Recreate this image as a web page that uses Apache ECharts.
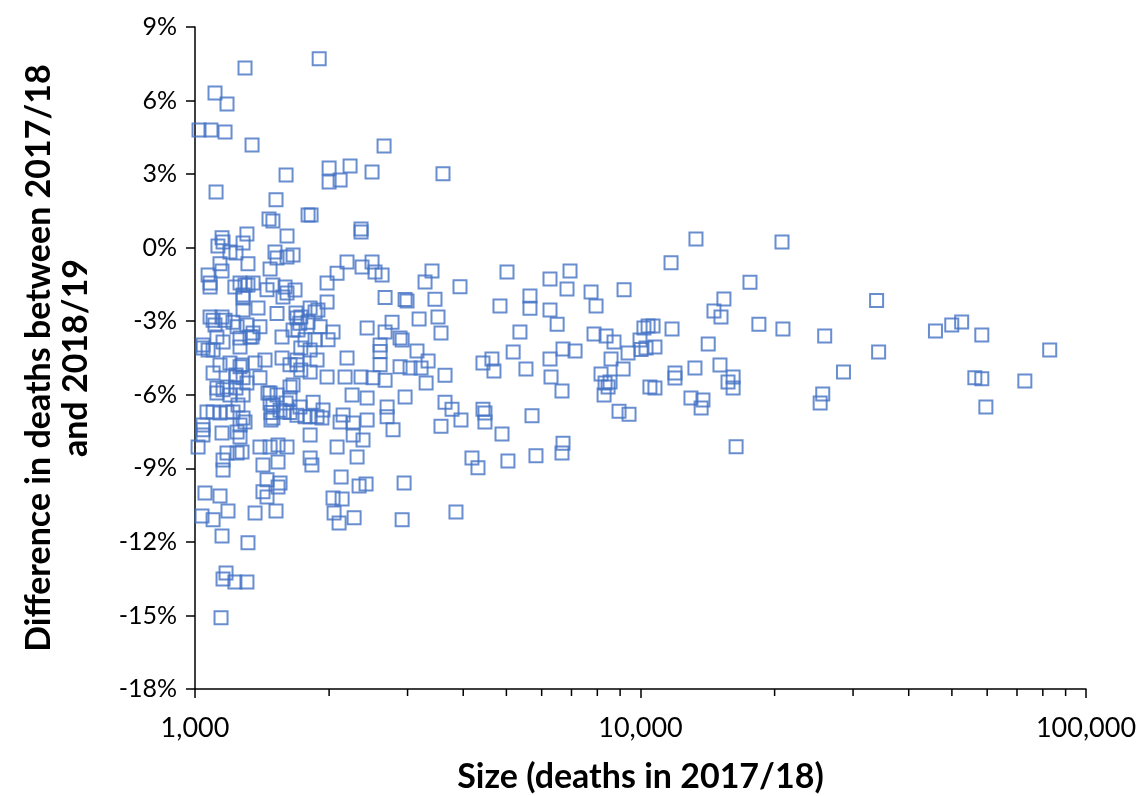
<!DOCTYPE html>
<html>
<head>
<meta charset="utf-8">
<script src="https://cdn.jsdelivr.net/npm/echarts@6/dist/echarts.min.js"></script>
<style>
html,body{margin:0;padding:0;background:#fff;}
#chart{width:1140px;height:796px;}
</style>
</head>
<body>
<div id="chart"></div>
<script>
// Size (deaths in 2017/18)
const sizes = [
1900,1295,1109,1180,1021,1086,1168,1343,2657,1601,2000,2229,2497,3603,2000,2117,1115,1520,1466,1496,
1794,1822,2359,1308,1609,1282,1150,1156,1126,1198,1236,1512,1528,1609,1315,1138,1150,1474,1070,1081,
1081,1262,1295,1282,1350,1451,1496,1593,1609,1576,1229,1385,1528,1282,1081,1098,1150,1168,1217,1243,
1109,1308,1399,1350,1120,1042,1156,1262,1329,1568,1660,1694,1042,1098,1262,1138,1198,1262,1364,1436,
1568,1634,1694,1236,1282,1399,1120,1180,1236,1474,1528,1634,1282,1249,1064,1098,1138,1180,1496,1552,
1496,1634,1694,1282,1262,1042,1042,1150,1262,1016,1399,1474,1536,1609,1180,1243,1156,1156,1275,1421,
1536,1813,1830,1813,2084,2311,2265,2383,2783,1053,1138,1451,1421,1451,1552,1536,1186,1037,1098,1364,
1520,2128,2335,2421,2041,2139,2052,2106,2276,2947,2917,1150,1315,1174,1156,1229,1308,1144,2359,2194,
2371,2497,2536,2630,2084,1979,2671,2962,1979,1660,1677,1813,1860,1888,1685,1728,1794,1719,1703,1909,
2041,2434,2769,2671,2886,1989,1860,1766,2603,1728,1813,1879,2194,2603,2603,2886,1694,1728,1813,1979,
2172,2359,2510,2671,1660,2252,2434,2962,1634,1841,1938,1721,2699,2699,2150,2117,2265,2434,1766,1813,
1879,1927,3404,3284,3934,2992,3457,3184,3511,3566,2917,3150,3336,3039,3217,3641,3302,3641,3775,3954,
3566,4430,4476,4476,4888,5708,4185,4317,5040,5826,6700,6665,3853,5016,6947,6264,6840,5648,5648,4837,
6264,6500,7745,7947,9185,5363,5178,4430,4640,4689,5532,6264,6700,7130,6297,6665,7865,8370,8720,8588,
9377,9140,8155,8326,8544,8457,8284,8950,9425,10180,10400,10030,10290,9975,10500,13320,20780,11710,17610,15390,
14620,15160,33880,10670,11770,18440,20880,25910,45930,49970,52590,58360,82900,34240,14190,10776,13250,15080,11950,11950,
10776,16140,15720,16140,12980,13810,13680,28550,25650,25310,16390,56300,58360,72900,59600,1282,1315,1098,1308,1156,
1120,1198,1458,1601,1474,1217,1295,1042,1243,1481,1584,1481,1070,1343,1275,1236
];
// Difference in deaths between 2017/18 and 2018/19 (%)
const diffs = [
7.70,7.33,6.31,5.86,4.80,4.80,4.72,4.19,4.15,2.96,3.25,3.33,3.09,3.01,2.68,2.76,2.27,1.95,1.17,1.09,
1.33,1.33,0.76,0.56,0.48,0.19,0.40,0.23,0.07,-0.18,-0.22,-0.18,-0.42,-0.38,-0.66,-0.66,-0.95,-0.87,-1.11,-1.44,
-1.60,-1.44,-1.52,-1.93,-1.44,-1.72,-1.52,-1.60,-1.85,-2.01,-1.60,-2.46,-2.68,-2.54,-2.83,-2.96,-2.83,-2.96,-3.04,-3.23,
-3.15,-3.15,-3.23,-3.48,-3.64,-3.97,-3.85,-3.68,-3.64,-3.64,-3.36,-2.87,-4.09,-4.17,-4.05,-4.79,-4.70,-4.86,-4.70,-4.58,
-4.50,-4.78,-4.58,-5.19,-5.31,-5.31,-5.72,-5.68,-5.72,-5.93,-6.01,-5.68,-6.01,-6.42,-6.70,-6.70,-6.74,-6.70,-6.42,-6.63,
-6.95,-6.72,-6.84,-6.95,-7.23,-7.43,-7.64,-7.56,-7.72,-8.13,-8.13,-8.13,-8.05,-8.13,-8.37,-8.37,-8.66,-9.07,-8.33,-8.86,
-8.74,-8.58,-8.86,-7.64,-8.13,-8.54,-7.64,-7.84,-7.43,-10.01,-10.13,-9.47,-9.96,-10.17,-9.60,-9.76,-10.74,-10.94,-11.10,-10.82,
-10.74,-9.35,-9.72,-9.64,-10.21,-10.25,-10.82,-11.23,-11.02,-9.60,-11.10,-11.76,-12.04,-13.27,-13.51,-13.64,-13.64,-15.09,0.64,-0.58,
-0.79,-0.58,-0.99,-1.11,-1.04,-1.44,-2.03,-2.11,-2.22,-0.30,-1.73,-2.46,-2.62,-2.54,-2.66,-2.83,-3.04,-3.08,-3.36,-3.23,
-3.44,-3.28,-3.04,-3.44,-3.68,-3.76,-3.76,-3.76,-3.97,-4.09,-4.17,-4.58,-4.50,-4.23,-4.78,-4.86,-4.78,-4.99,-5.07,-5.27,
-5.27,-5.27,-5.31,-5.41,-5.60,-6.01,-6.13,-6.09,-6.13,-6.30,-6.62,-6.50,-6.50,-6.90,-6.82,-7.11,-7.15,-7.03,-6.90,-6.90,
-6.90,-6.95,-0.95,-1.40,-1.59,-2.18,-2.10,-2.91,-2.83,-3.48,-3.77,-4.21,-4.62,-4.91,-4.91,-5.20,-5.52,-6.30,-6.59,-7.03,
-7.28,-6.59,-6.74,-7.11,-7.60,-6.86,-8.58,-8.98,-8.70,-8.49,-7.98,-8.37,-10.78,-0.99,-0.95,-1.28,-1.69,-1.97,-2.47,-2.38,
-2.54,-3.12,-1.81,-2.38,-1.72,-3.44,-4.26,-4.70,-4.54,-5.03,-4.95,-4.54,-4.13,-4.21,-5.27,-5.85,-3.52,-3.60,-3.85,-4.54,
-4.30,-4.95,-5.15,-5.52,-5.48,-5.68,-6.01,-6.67,-6.79,-3.28,-3.19,-4.15,-4.09,-3.77,-5.68,0.35,0.23,-0.62,-1.41,-2.09,
-2.58,-2.83,-2.15,-3.19,-3.32,-3.12,-3.32,-3.60,-3.40,-3.15,-3.03,-3.56,-4.17,-4.26,-3.93,-4.05,-4.91,-4.79,-5.11,-5.32,
-5.72,-5.27,-5.48,-5.72,-6.13,-6.21,-6.54,-5.07,-5.97,-6.34,-8.12,-5.31,-5.35,-5.44,-6.50,-2.05,-1.52,-5.11,-5.52,-5.80,
-5.93,-6.01,-5.93,-6.34,-6.34,-6.70,-7.11,-7.23,-7.52,-6.72,-6.70,-7.03,-4.17,-3.64,-4.79,-5.27
];
// Minor tick positions on the log x axis
const minorTicks = [2000,3000,4000,5000,6000,7000,8000,9000,20000,30000,40000,50000,60000,70000,80000,90000];

const xMin = 1000, xMax = 100000;
const yMin = -18, yMax = 9, yStep = 3;

const points = sizes.map((s, i) => [s, diffs[i]]);
const FONT = 'Lato';

const chart = echarts.init(document.getElementById('chart'), null, {renderer: 'canvas'});
chart.setOption({
  animation: false,
  backgroundColor: '#ffffff',
  grid: {left: 195, right: 54, top: 27, bottom: 107, containLabel: false, outerBoundsMode: 'none'},
  xAxis: {
    type: 'log', logBase: 10, min: xMin, max: xMax,
    name: 'Size (deaths in 2017/18)', nameLocation: 'middle', nameGap: 71, nameMoveOverlap: false,
    nameTextStyle: {fontFamily: FONT, fontWeight: 'bold', fontSize: 34, color: '#000'},
    axisLine: {show: true, onZero: false, lineStyle: {color: '#000', width: 1.5}},
    axisTick: {show: true, inside: false, length: 9, lineStyle: {color: '#000', width: 1.5}},
    minorTick: {show: false},
    splitLine: {show: false},
    axisLabel: {fontFamily: FONT, fontSize: 27, color: '#000', margin: 26,
      formatter: v => Math.round(v).toLocaleString('en-US')}
  },
  yAxis: {
    type: 'value', min: yMin, max: yMax, interval: yStep,
    name: 'Difference in deaths between 2017/18\nand 2018/19', nameLocation: 'middle', nameGap: 100, nameRotate: 90, nameMoveOverlap: false,
    nameTextStyle: {fontFamily: FONT, fontWeight: 'bold', fontSize: 34, color: '#000', lineHeight: 37, align: 'center'},
    axisLine: {show: true, onZero: false, lineStyle: {color: '#000', width: 1.5}},
    axisTick: {show: true, inside: false, length: 9, lineStyle: {color: '#000', width: 1.5}},
    splitLine: {show: false},
    axisLabel: {fontFamily: FONT, fontSize: 25, color: '#000', margin: 18, formatter: v => v + '%'}
  },
  series: [
    {
      type: 'scatter',
      data: points,
      symbol: 'rect',
      symbolSize: 13,
      itemStyle: {color: 'rgba(0,0,0,0)', borderColor: '#4472C4', borderWidth: 2},
      emphasis: {disabled: true},
      z: 3
    },
    {
      type: 'custom',
      clip: false,
      silent: true,
      data: minorTicks.map(v => [v, yMin]),
      encode: {x: 0, y: 1},
      renderItem: function (params, api) {
        const p = api.coord([api.value(0), api.value(1)]);
        return {
          type: 'line',
          shape: {x1: p[0], y1: p[1], x2: p[0], y2: p[1] + 7},
          style: {stroke: '#000', lineWidth: 1.5}
        };
      },
      z: 2
    }
  ]
});
</script>
</body>
</html>
